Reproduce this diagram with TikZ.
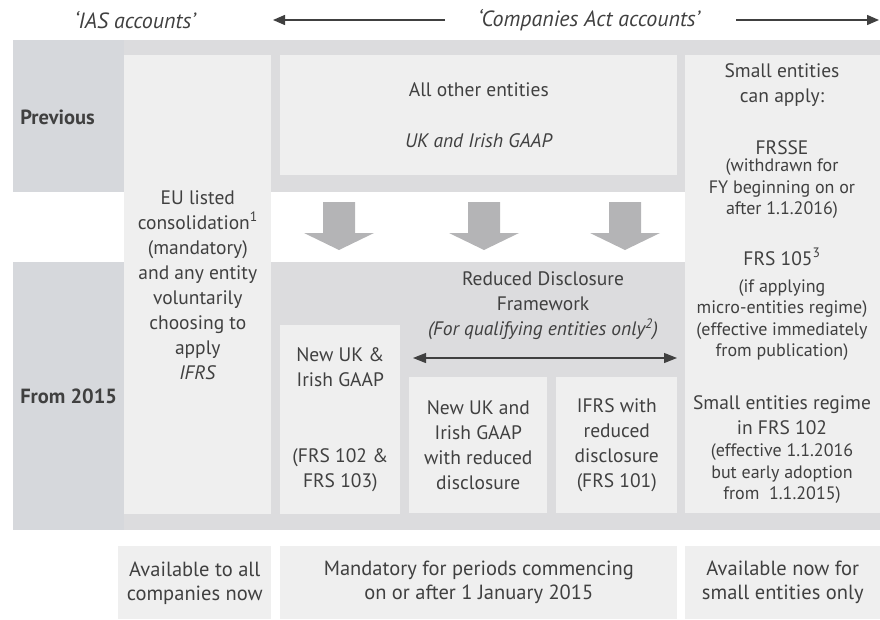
\documentclass[tikz,border=0pt]{standalone}
\usepackage{fontspec}
\setmainfont{PT Sans}
\usetikzlibrary{arrows.meta}

\definecolor{bandgray}{HTML}{DCDCDE}
\definecolor{sidegray}{HTML}{D6D8DC}
\definecolor{boxgray}{HTML}{EFEFEF}
\definecolor{arrowgray}{HTML}{B4B4B6}
\definecolor{inkgray}{HTML}{404040}

\newcommand{\bigtxt}{\fontsize{19.5}{25}\selectfont}
\newcommand{\smalltxt}{\fontsize{18}{21.5}\selectfont}
\newcommand{\headtxt}{\fontsize{22}{24}\selectfont}
\newcommand{\foottxt}{\fontsize{20.5}{24}\selectfont}

\begin{document}
\begin{tikzpicture}[x=1pt, y=-1pt, semithick,
  panel/.style={fill=#1, draw=none, anchor=north west, inner sep=0pt},
  box/.style={panel=boxgray, align=center, text=inkgray, font=\bigtxt},
  txt/.style={align=center, text=inkgray, font=\bigtxt, inner sep=0pt},
  note/.style={align=center, text=inkgray, font=\smalltxt, inner sep=0pt},
  side/.style={anchor=west, text=inkgray, font=\fontsize{20.5}{24}\selectfont\bfseries, inner sep=0pt},
  toparrow/.style={draw=inkgray, line width=1.4pt, -{Triangle[length=12pt, width=10pt]}},
  rdfarrow/.style={draw=inkgray, line width=1.1pt, {Triangle[length=13pt, width=10pt]}-{Triangle[length=13pt, width=10pt]}}]

  \useasboundingbox (0,0) rectangle (880,619);

  % headings
  \node [txt, font=\headtxt\itshape] (ias) at (135,20) {`IAS accounts'};
  \node [txt, font=\headtxt\itshape] (ca)  at (589,20) {`Companies Act accounts'};
  \coordinate (caW)  at (445,20);
  \coordinate (topL) at (273,20);
  \coordinate (caE)  at (736,20);
  \coordinate (topR) at (879,20);
  \draw [toparrow] (caW) -- (topL);
  \draw [toparrow] (caE) -- (topR);

  % bands
  \node [panel=bandgray, minimum width=867pt, minimum height=152pt] (prevband) at (13,40) {};
  \node [panel=bandgray, minimum width=867pt, minimum height=268pt] (newband)  at (13,262) {};
  \node [panel=sidegray, minimum width=111pt, minimum height=152pt] (prevside) at (13,40) {};
  \node [panel=sidegray, minimum width=111pt, minimum height=268pt] (newside)  at (13,262) {};
  \node [side] (prev) at (20,117) {Previous};
  \node [side] (from) at (20,396) {From 2015};

  % columns
  \node [box, minimum width=147pt, minimum height=459pt] (eu) at (124,55)
    {EU listed\\consolidation\textsuperscript{1}\\(mandatory)\\and any entity\\voluntarily\\choosing to\\apply\\\textit{IFRS}};
  \node [box, minimum width=397pt, minimum height=120pt] (other) at (280,55)
    {All other entities\\[26pt]\textit{UK and Irish GAAP}};
  \node [panel=boxgray, minimum width=195pt, minimum height=458pt] (small) at (685,55) {};

  % transition arrows
  \foreach \ax in {339,484,625}
    \fill [arrowgray] (\ax-16,202) -- (\ax+16,202) -- (\ax+16,233) -- (\ax+35,233)
      -- (\ax,250) -- (\ax-35,233) -- (\ax-16,233) -- cycle;

  % from 2015
  \node [box, minimum width=120pt, minimum height=189pt] (newuk) at (280,325)
    {New UK \&\\Irish GAAP\\[51pt](FRS 102 \&\\FRS 103)};
  \node [txt] (rdf) at (543,306)
    {Reduced Disclosure\\Framework\\\textit{(For qualifying entities only\textsuperscript{2})}};
  \coordinate (rdfL) at (413,358);
  \coordinate (rdfR) at (677,358);
  \draw [rdfarrow] (rdfL) -- (rdfR);
  \node [box, minimum width=138pt, minimum height=136pt] (rdgaap) at (409,377)
    {New UK and\\Irish GAAP\\with reduced\\disclosure};
  \node [box, minimum width=121pt, minimum height=136pt] (rdifrs) at (556,377)
    {IFRS with\\reduced\\disclosure\\(FRS 101)};

  % small entities column
  \node [txt]  (smhead)  at (782,85)  {Small entities\\can apply:};
  \node [txt]  (frsse)   at (782,148) {FRSSE};
  \node [note] (frsseN)  at (782,189) {(withdrawn for\\FY beginning on or\\after 1.1.2016)};
  \node [txt]  (frs105)  at (782,257) {FRS 105\textsuperscript{3}};
  \node [note] (frs105N) at (782,320) {(if applying\\micro-entities regime)\\(effective immediately\\from publication)};
  \node [txt]  (frs102)  at (782,415) {Small entities regime\\in FRS 102};
  \node [note] (frs102N) at (782,474) {(effective 1.1.2016\\but early adoption\\from \ 1.1.2015)};

  % availability
  \node [box, font=\foottxt, minimum width=153pt, minimum height=73pt] (avail1) at (118,546)
    {Available to all\\companies now};
  \node [box, font=\foottxt, minimum width=397pt, minimum height=73pt] (avail2) at (280,546)
    {Mandatory for periods commencing\\on or after 1 January 2015};
  \node [box, font=\foottxt, minimum width=195pt, minimum height=73pt] (avail3) at (685,546)
    {Available now for\\small entities only};

\end{tikzpicture}
\end{document}
